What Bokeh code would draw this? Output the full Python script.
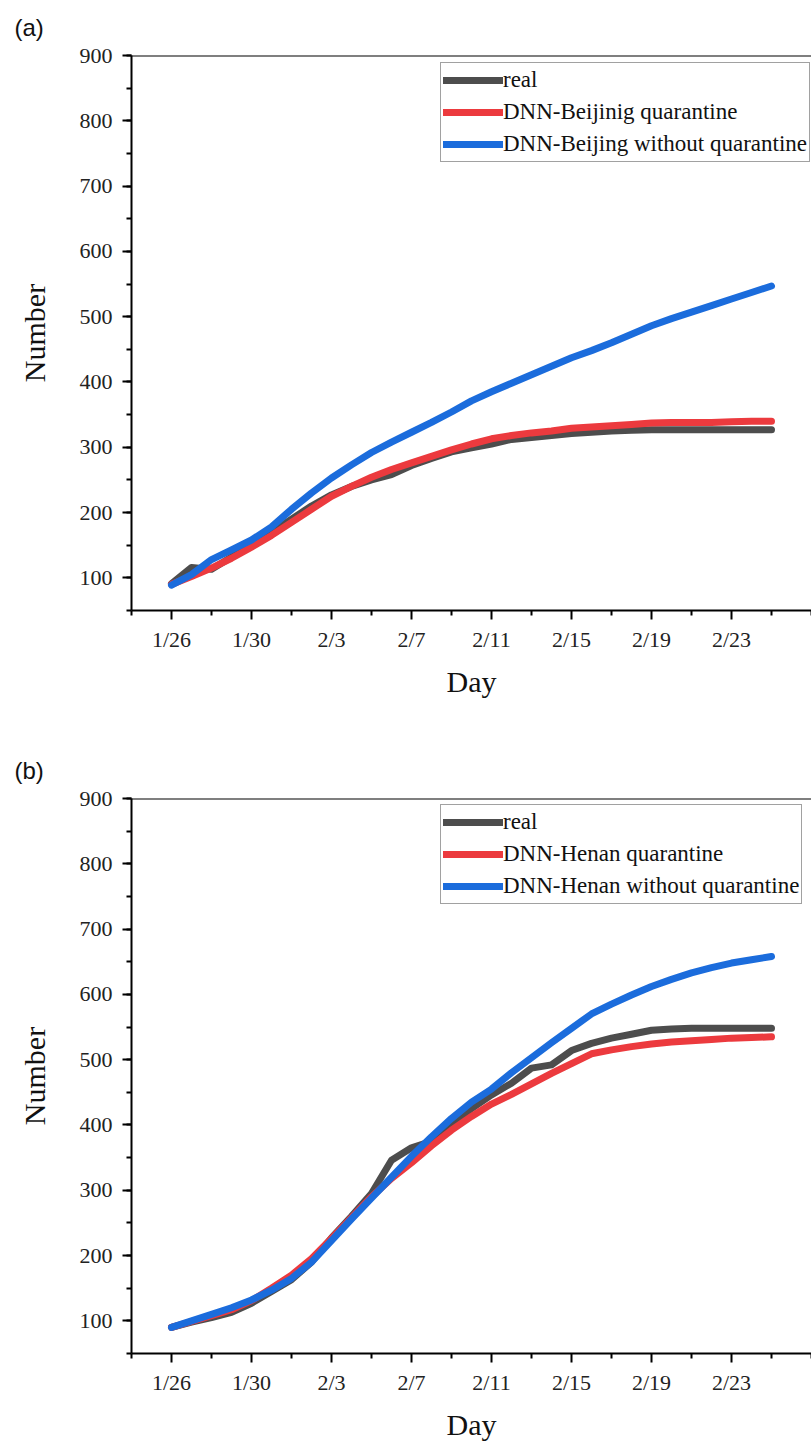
from bokeh.plotting import figure
from bokeh.models import FixedTicker, Range1d, Span, Legend, LegendItem
from bokeh.layouts import column
from bokeh.embed import file_html
from bokeh.resources import INLINE

dates = ["1/26", "1/27", "1/28", "1/29", "1/30", "1/31",
         "2/1", "2/2", "2/3", "2/4", "2/5", "2/6", "2/7", "2/8", "2/9", "2/10",
         "2/11", "2/12", "2/13", "2/14", "2/15", "2/16", "2/17", "2/18", "2/19",
         "2/20", "2/21", "2/22", "2/23", "2/24", "2/25"]
tick_labels = ["1/26", "1/30", "2/3", "2/7", "2/11", "2/15", "2/19", "2/23"]

# Panel (a) Beijing
bj_real = [91, 116, 113, 132, 150, 170, 190, 210, 227, 240, 250, 258, 272, 283, 293,
           299, 305, 312, 315, 318, 321, 323, 325, 326, 327, 327, 327, 327, 327, 327, 327]
bj_quar = [90, 102, 115, 130, 147, 165, 185, 205, 225, 240, 254, 266, 276, 286, 296,
           305, 313, 318, 322, 325, 329, 331, 333, 335, 337, 338, 338, 338, 339, 340, 340]
bj_noq = [89, 105, 128, 143, 158, 178, 205, 230, 253, 273, 292, 308, 323, 338, 354,
          371, 385, 398, 411, 424, 437, 448, 460, 473, 486, 497, 507, 517, 527, 537, 547]

# Panel (b) Henan
hn_real = [90, 98, 105, 113, 127, 145, 163, 190, 227, 260, 295, 346, 365, 375, 400,
           425, 446, 464, 487, 492, 514, 525, 533, 539, 545, 547, 548, 548, 548, 548, 548]
hn_quar = [90, 99, 108, 117, 131, 150, 170, 195, 226, 258, 290, 318, 342, 368, 392,
           413, 432, 447, 463, 479, 494, 509, 515, 520, 524, 527, 529, 531, 533, 534, 535]
hn_noq = [90, 100, 110, 120, 132, 147, 165, 190, 223, 256, 288, 320, 352, 382, 410,
          435, 455, 480, 503, 526, 548, 570, 585, 599, 612, 623, 633, 641, 648, 653, 658]

COLORS = ["#4d4d4d", "#ec3a3e", "#1b6cdc"]
SERIF = "Liberation Serif"


def make_panel(tag, real, quar, noq, names, height, frame_h, bottom):
    x = list(range(len(dates)))
    p = figure(width=811, height=height, output_backend="svg", toolbar_location=None,
               x_range=Range1d(-2, 32), y_range=Range1d(50, 900),
               min_border_left=131, min_border_top=55, min_border_bottom=bottom,
               min_border_right=0, title=tag)
    p.xgrid.visible = False
    p.ygrid.visible = False
    p.outline_line_color = None
    p.background_fill_color = "white"
    p.border_fill_color = "white"

    p.title.text_font = "Liberation Sans"
    p.title.text_font_size = "24px"
    p.title.text_font_style = "normal"
    p.title.text_color = "#111111"
    p.title.align = "left"
    p.title.vertical_align = "top"
    p.title.offset = -117
    p.title.standoff = 26

    major_x = [dates.index(t) for t in tick_labels]
    minor_x = [m for m in range(-2, 33, 2) if m not in major_x]
    p.xaxis.ticker = FixedTicker(ticks=major_x, minor_ticks=minor_x)
    p.xaxis.major_label_overrides = {dates.index(t): t for t in tick_labels}
    p.yaxis.ticker = FixedTicker(ticks=list(range(100, 901, 100)),
                                 minor_ticks=list(range(50, 901, 50)))

    for ax in (p.xaxis[0], p.yaxis[0]):
        ax.axis_line_width = 2
        ax.axis_line_color = "black"
        ax.major_tick_line_width = 2
        ax.minor_tick_line_width = 2
        ax.major_tick_line_color = "black"
        ax.minor_tick_line_color = "black"
        ax.major_tick_out = 9
        ax.major_tick_in = 0
        ax.minor_tick_out = 5
        ax.minor_tick_in = 0
        ax.major_label_text_font = SERIF
        ax.major_label_text_font_size = "22px"
        ax.major_label_text_color = "#222222"
        ax.axis_label_text_font = SERIF
        ax.axis_label_text_font_size = "30px"
        ax.axis_label_text_font_style = "normal"
        ax.axis_label_text_color = "#111111"
    p.xaxis.major_label_standoff = 7
    p.yaxis.major_label_standoff = 10
    p.xaxis.axis_label = "Day"
    p.yaxis.axis_label = "Number"
    p.xaxis.axis_label_standoff = 10
    p.yaxis.axis_label_standoff = 26

    p.add_layout(Span(location=900, dimension="width", line_color="black", line_width=2))

    rs = []
    for ys, c in zip([real, quar, noq], COLORS):
        r = p.line(x, ys, line_color=c, line_width=7, line_cap="round", line_join="round")
        rs.append(r)

    legend = Legend(items=[LegendItem(label=n, renderers=[r]) for n, r in zip(names, rs)],
                    location=(309, frame_h - 9 - 98), orientation="vertical",
                    label_text_font=SERIF, label_text_font_size="23px",
                    label_text_color="#111111",
                    glyph_width=60, glyph_height=30, label_height=30, label_standoff=0,
                    spacing=2, padding=2, margin=0,
                    border_line_color="#444444", border_line_width=1.5,
                    background_fill_color="white", background_fill_alpha=1.0)
    p.add_layout(legend)
    return p


pa = make_panel("(a)", bj_real, bj_quar, bj_noq,
                ["real", "DNN-Beijinig quarantine", "DNN-Beijing without quarantine"],
                743, 555, 133)
pb = make_panel("(b)", hn_real, hn_quar, hn_noq,
                ["real", "DNN-Henan quarantine", "DNN-Henan without quarantine"],
                700, 556, 89)

layout = column(pa, pb, spacing=0)
open("out.html", "w").write(file_html(layout, INLINE))
